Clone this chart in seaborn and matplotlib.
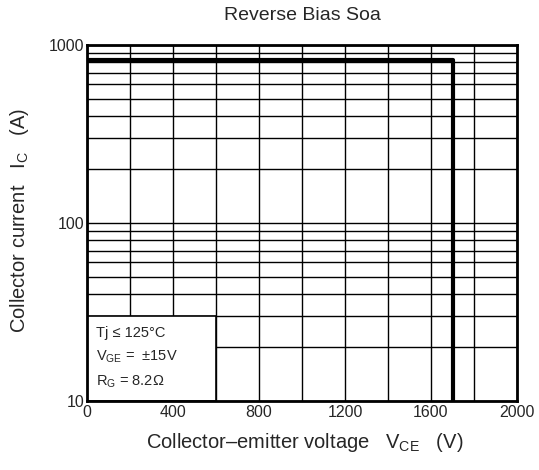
import matplotlib
matplotlib.use("Agg")
import matplotlib.pyplot as plt
import matplotlib.ticker as mticker
from matplotlib.patches import Rectangle
import seaborn as sns

# SOA boundary (V, A)
soa_voltage = [0, 1700, 1700]
soa_current = [820, 820, 10]

x_ticks = [0, 400, 800, 1200, 1600, 2000]
y_ticks = [10, 100, 1000]
cond_lines = ["Tj \u2264 125\u00b0C",
              "V$_\\mathregular{GE}$ =  \u00b115V",
              "R$_\\mathregular{G}$ = 8.2\u03a9"]
cond_y = [24.0, 17.6, 12.9]

sns.set_style("white")
plt.rcParams['font.family'] = ['Liberation Sans', 'DejaVu Sans']
plt.rcParams['mathtext.fontset'] = 'custom'
plt.rcParams['mathtext.rm'] = 'Liberation Sans'
plt.rcParams['mathtext.it'] = 'Liberation Sans:italic'

fig = plt.figure(figsize=(5.39, 4.70), dpi=100)
ax = fig.add_axes([87 / 539, 1 - 401 / 470, 430 / 539, 356 / 470])

sns.lineplot(x=soa_voltage, y=soa_current, sort=False, estimator=None,
             color='black', linewidth=3, ax=ax, zorder=3)

ax.set_yscale('log')
ax.set_xlim(0, 2000)
ax.set_ylim(10, 1000)
ax.xaxis.set_major_locator(mticker.FixedLocator(x_ticks))
ax.xaxis.set_minor_locator(mticker.MultipleLocator(200))
ax.yaxis.set_major_locator(mticker.FixedLocator(y_ticks))
ax.yaxis.set_minor_locator(mticker.LogLocator(base=10, subs=range(2, 10)))
ax.yaxis.set_major_formatter(mticker.FuncFormatter(lambda v, p: f"{v:g}"))
ax.yaxis.set_minor_formatter(mticker.NullFormatter())
ax.set_xticklabels([str(v) for v in x_ticks])
ax.tick_params(which='both', length=0, labelsize=11.5)
ax.tick_params(axis='x', pad=3)
ax.tick_params(axis='y', pad=2)
ax.grid(which='both', color='black', linewidth=1)

for s in ax.spines.values():
    s.set_linewidth(2)
    s.set_color('black')

# conditions box
ax.add_patch(Rectangle((0, 10), 600, 20, facecolor='white', edgecolor='black',
                       linewidth=1.2, zorder=2))
for txt, yv in zip(cond_lines, cond_y):
    ax.text(40, yv, txt, fontsize=10.5, va='center', ha='left', zorder=4)

fig.text(302 / 539, 1 - 16 / 470, "Reverse Bias Soa", fontsize=14,
         ha='center', va='center')
fig.text(305 / 539, 1 - 442 / 470,
         "Collector\u2013emitter voltage   V$_\\mathregular{CE}$   (V)",
         fontsize=14.5, ha='center', va='center')
fig.text(20 / 539, 1 - 220 / 470,
         "Collector current   I$_\\mathregular{C}$   (A)",
         fontsize=14.5, ha='center', va='center', rotation=90)

fig.savefig("out.png", dpi=100)
